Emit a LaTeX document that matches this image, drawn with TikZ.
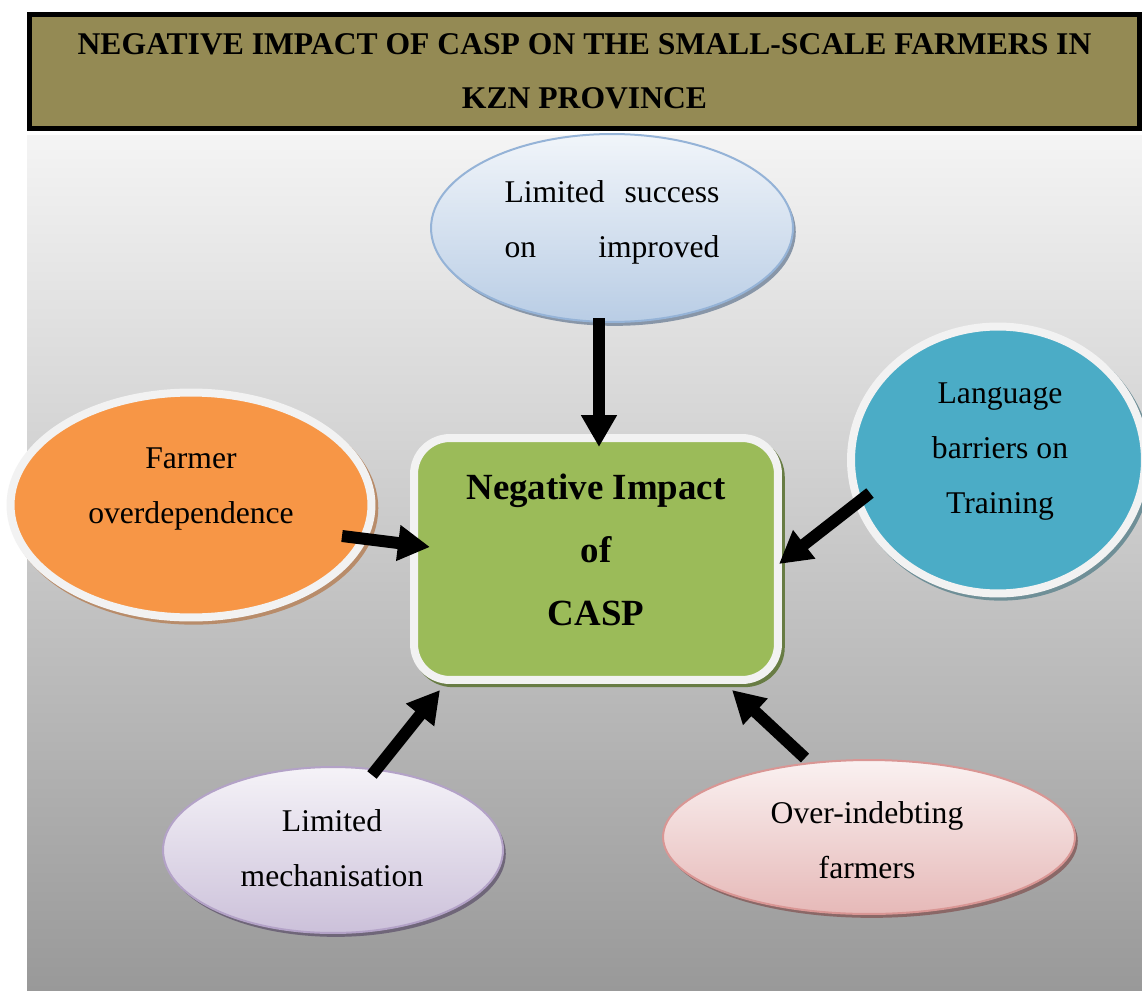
\documentclass[tikz,border=0pt]{standalone}
\usepackage{fontspec}
\setmainfont{Liberation Serif}
\usetikzlibrary{arrows.meta,shapes.geometric,shadows}
\definecolor{kznOlive}{HTML}{948A54}
\definecolor{kznRim}{HTML}{F2F2F2}
\definecolor{kznGreen}{HTML}{9BBB59}
\definecolor{kznGreenShade}{HTML}{687C44}
\definecolor{kznOrange}{HTML}{F79646}
\definecolor{kznOrangeShade}{HTML}{B88C6A}
\definecolor{kznTeal}{HTML}{4BACC6}
\definecolor{kznTealShade}{HTML}{6F8F97}
\definecolor{kznBlueBot}{HTML}{B9CDE5}
\definecolor{kznBlueLine}{HTML}{95B3D7}
\definecolor{kznBlueShade}{HTML}{8896A8}
\definecolor{kznLilac}{HTML}{CCC1DA}
\definecolor{kznLilacLine}{HTML}{B3A2C7}
\definecolor{kznLilacShade}{HTML}{6F6679}
\definecolor{kznRose}{HTML}{E6B9B8}
\definecolor{kznRoseLine}{HTML}{D99694}
\definecolor{kznRoseShade}{HTML}{8A6867}
\definecolor{kznBgTop}{HTML}{F4F4F4}
\definecolor{kznBgBot}{HTML}{999999}

\tikzset{
  blob/.style={ellipse, inner sep=0pt, outer sep=0pt},
  rimmed/.style={draw=kznRim, line width=1.6mm,
    drop shadow={shadow xshift=1.6pt, shadow yshift=-1.8pt, fill=#1, draw=#1, opacity=1}},
  glossy/.style 2 args={top color=white!80!#1, bottom color=#1, draw=#2, line width=0.4mm},
  shadowed/.style={drop shadow={shadow xshift=1.6pt, shadow yshift=-2.2pt, fill=#1, opacity=1}},
  bodytext/.style={align=center, font=\fontsize{18}{31.3}\selectfont},
  bigarrow/.style={line width=2.4mm, -{Triangle[length=6.4mm, width=6.8mm]}}
}

\begin{document}
\begin{tikzpicture}[x=0.02cm, y=-0.02cm]
  \useasboundingbox (0,0) rectangle (1142,990);
  \fill[white] (0,0) rectangle (1142,990);
  \shade[top color=kznBgTop, bottom color=kznBgBot] (27,135) rectangle (1142,990);

  % heading bar
  \node[draw=black, line width=1mm, fill=kznOlive, minimum width=22.2cm, minimum height=2.28cm,
        align=center, font=\fontsize{18}{30.7}\selectfont\bfseries] (title) at (584.5,71.5)
    {NEGATIVE IMPACT OF CASP ON THE SMALL-SCALE FARMERS IN\\KZN PROVINCE};

  % centre box
  \node[rectangle, rounded corners=0.72cm, minimum width=7.28cm, minimum height=4.84cm,
        inner sep=0pt, fill=kznGreen, rimmed=kznGreenShade] (impact) at (596,559) {};
  \node[align=center, font=\fontsize{21}{35.7}\selectfont\bfseries] (impacttext) at (596,550)
    {Negative Impact\\of\\CASP};

  % causes around it
  \node[blob, minimum width=7.24cm, minimum height=3.76cm,
        glossy={kznBlueBot}{kznBlueLine}, shadowed=kznBlueShade] (lim) at (612,228) {};
  \node[bodytext] (limtext) at (612,222)
    {\makebox[4.3cm][s]{Limited success}\\\makebox[4.3cm][s]{on improved}};

  \node[blob, minimum width=7.22cm, minimum height=4.5cm,
        fill=kznOrange, rimmed=kznOrangeShade] (farm) at (191,505) {};
  \node[bodytext] (farmtext) at (191,489) {Farmer\\overdependence};

  \node[blob, minimum width=5.88cm, minimum height=5.34cm,
        fill=kznTeal, rimmed=kznTealShade] (lang) at (998,460) {};
  \node[bodytext] (langtext) at (1000,452) {Language\\barriers on\\Training};

  \node[blob, minimum width=6.8cm, minimum height=3.32cm,
        glossy={kznLilac}{kznLilacLine}, shadowed=kznLilacShade] (mech) at (333,850) {};
  \node[bodytext] (mechtext) at (332,848) {Limited\\mechanisation};

  \node[blob, minimum width=8.24cm, minimum height=3.08cm,
        glossy={kznRose}{kznRoseLine}, shadowed=kznRoseShade] (debt) at (869,837) {};
  \node[bodytext] (debttext) at (867,840) {Over-indebting\\farmers};

  % arrows into the centre box
  \foreach \src/\sx/\sy/\dx/\dy in {lim/-13/90/3/-112, farm/151/31/-166/-12, lang/-128/33/183/5,
                                   mech/39/-75/-156/131, debt/-64/-79/136/131} {
    \draw[bigarrow] ([shift={(\sx,\sy)}]\src.center) -- ([shift={(\dx,\dy)}]impact.center);
  }
\end{tikzpicture}
\end{document}
